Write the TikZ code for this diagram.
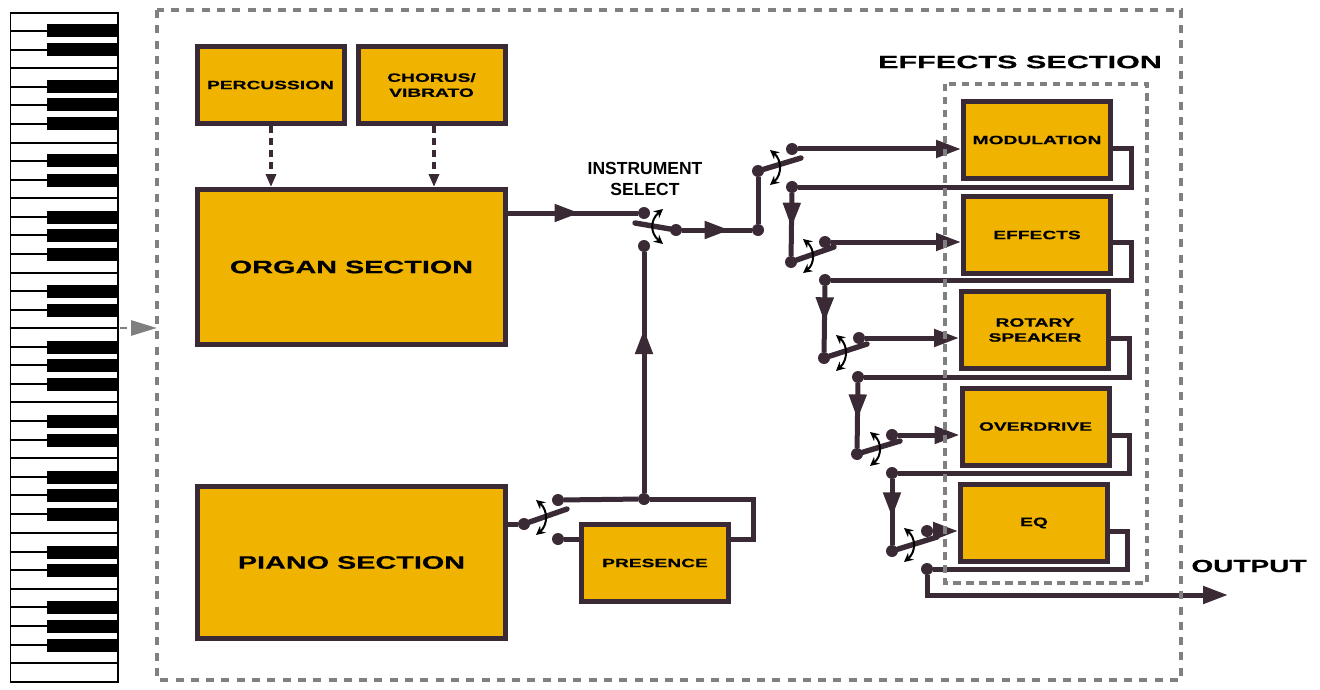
\documentclass[tikz,border=0pt]{standalone}
\usepackage{fontspec}
\usetikzlibrary{arrows.meta,decorations.markings}
\setmainfont{Liberation Sans}
\newfontfamily\techfont[FakeStretch=1.6,BoldFeatures={FakeBold=0.5}]{Liberation Sans}
\newfontfamily\techwide[FakeStretch=1.7,BoldFeatures={FakeBold=0.5}]{Liberation Sans}
\definecolor{wirecol}{HTML}{3A2A35}
\definecolor{boxcol}{HTML}{F0B400}
\definecolor{framecol}{HTML}{808080}
\begin{document}
\begin{tikzpicture}[x=1pt,y=-1pt]
\tikzset{
	block/.style={
		shape=rectangle,
		draw=wirecol, %dark border
		fill=boxcol,
		line width=5pt,
		inner sep=0pt,
		align=center
	},
	smallblock/.style={block, minimum width=147pt, minimum height=77pt, font=\techfont\bfseries\fontsize{12}{15}\selectfont},
	bigblock/.style={block, minimum width=308pt, font=\techfont\bfseries\fontsize{18}{20}\selectfont},
	dot/.style={shape=circle, fill=wirecol, minimum size=12pt, inner sep=0pt, outer sep=0pt},
	wire/.style={draw=wirecol, line width=5pt},
	blade/.style={draw=wirecol, line width=5.4pt, line cap=round},
	midtip/.style={postaction={decorate}, decoration={markings, mark=at position #1 with {\arrow{Triangle[length=25pt,width=17pt]}}}},
	endtip/.style={-{Triangle[length=25pt,width=17pt]}},
	swing/.style={draw=black, line width=2pt, {Stealth[length=9pt,width=9pt]}-{Stealth[length=9pt,width=9pt]}},
	control/.style={draw=wirecol, line width=3.4pt, dash pattern=on 7pt off 5pt, -{Triangle[length=13pt,width=10pt]}},
	frame/.style={draw=framecol, line width=3.4pt, dash pattern=on 8pt off 7.3pt},
	innerframe/.style={draw=framecol, line width=3.2pt, dash pattern=on 7.5pt off 5.5pt},
	heading/.style={inner sep=0pt}
}
\useasboundingbox (0,0) rectangle (1320,690);

%keyboard
\draw[line width=1.5pt, fill=white] (10.5,13) rectangle (118,682);
\foreach \y in {68,143,198,273,328,402,458,533,589,663}
	\draw[line width=1.5pt] (10.5,\y) -- (118,\y);
\foreach \y in {31,50,87,105,124,161,180,217,235,254,291,310,347,365,384,421,440,477,495,514,552,570,607,626,645} {
	\draw[line width=1.2pt] (10.5,\y) -- (47,\y);
	\fill[black] (47,\y-6.5) rectangle (118,\y+6.5);
}

\node[heading, font=\techwide\bfseries\fontsize{18}{20}\selectfont] (fxtitle) at (1020,62) {EFFECTS SECTION};
\node[heading, font=\techfont\bfseries\fontsize{17.5}{20}\selectfont] (outtitle) at (1249,566) {OUTPUT};

%keyboard input
\coordinate (kbd) at (120,328);
\coordinate (frameleft) at (157,328);
\draw[draw=framecol, line width=2.8pt, dash pattern=on 7pt off 4pt, -{Triangle[length=26pt,width=15pt]}] (kbd) -- (frameleft);

%blocks
\node[smallblock] (perc) at (270.5,85) {PERCUSSION};
\node[smallblock] (chorus) at (431.5,85) {CHORUS/\\VIBRATO};
\node[bigblock, minimum height=155pt] (organ) at (351.5,267) {ORGAN SECTION};
\node[bigblock, minimum height=152pt] (piano) at (351.5,562.5) {PIANO SECTION};
\node[smallblock] (presence) at (655,563) {PRESENCE};
\node[smallblock] (mod) at (1037,140) {MODULATION};
\node[smallblock] (fx) at (1037,235) {EFFECTS};
\node[smallblock] (rotary) at (1035,330) {ROTARY\\SPEAKER};
\node[smallblock] (drive) at (1035.5,426.5) {OVERDRIVE};
\node[smallblock] (eq) at (1034,523) {EQ};

\coordinate (percout) at (271,126);
\coordinate (chorusout) at (434,126);
\draw[control] (percout) -- (percout |- organ.north);
\draw[control] (chorusout) -- (chorusout |- organ.north);

%instrument select
\node[font=\bfseries\fontsize{17.5}{21}\selectfont, align=center, inner sep=0pt] (seltitle) at (645,179) {INSTRUMENT\\SELECT};
\node[dot] (selorgan) at (644,213) {};
\node[dot] (selpiano) at (644,246) {};
\node[dot] (selout) at (676,230) {};
\node[dot] (split) at (758,230) {};
\coordinate (selblade) at (635,223);
\coordinate (selarca) at (663,209);
\coordinate (selarcb) at (663,244);
\draw[wire, midtip=0.55] (selorgan -| organ.east) -- (selorgan);
\draw[blade] (selout) -- (selblade);
\draw[wire, midtip=0.68] (selout) -- (split);
\draw[swing] (selarca) .. controls (650,220) and (650,233) .. (selarcb);

%piano side
\node[dot] (pianoin) at (524,524) {};
\node[dot] (pianotop) at (558,500) {};
\node[dot] (pianolow) at (558,539) {};
\node[dot] (join) at (644,499) {};
\coordinate (pianoblade) at (567,509);
\coordinate (pianoarca) at (536,500);
\coordinate (pianoarcb) at (536,535);
\draw[wire] (pianoin -| piano.east) -- (pianoin);
\draw[blade] (pianoin) -- (pianoblade);
\draw[swing] (pianoarca) .. controls (548,510) and (548,525) .. (pianoarcb);
\draw[wire] (pianotop) -- (join);
\draw[wire] (join) -- (753,499) |- (pianolow -| presence.east);
\draw[wire] (pianolow) -- (pianolow -| presence.west);
\draw[wire, midtip=0.68] (join) -- (selpiano);

%first effect
\node[dot] (swa) at (758,171) {};
\node[dot] (inm) at (792,149) {};
\node[dot] (retm) at (792,187) {};
\coordinate (bladea) at (801,158);
\draw[wire] (split) -- (swa);
\draw[blade] (swa) -- (bladea);
\draw[wire, endtip] (inm) -- (inm -| mod.west);
\draw[wire] (inm -| mod.east) -- ++(18,0) |- (retm);
\draw[swing] (770,150) .. controls (782,160) and (782,175) .. (770,185);

%second effect
\node[dot] (swb) at (791,262) {};
\node[dot] (inf) at (825,242) {};
\node[dot] (retf) at (825,280) {};
\coordinate (bladeb) at (834,247);
\draw[wire, midtip=0.55] (retm) -- (swb);
\draw[blade] (swb) -- (bladeb);
\draw[wire, endtip] (inf) -- (inf -| fx.west);
\draw[wire] (inf -| fx.east) -- ++(18,0) |- (retf);
\draw[swing] (803,239) .. controls (815,249) and (815,264) .. (803,273);

%third effect
\node[dot] (swc) at (824,358) {};
\node[dot] (inr) at (859,338) {};
\node[dot] (retr) at (858,377) {};
\coordinate (bladec) at (867,344);
\draw[wire, midtip=0.55] (retf) -- (swc);
\draw[blade] (swc) -- (bladec);
\draw[wire, endtip] (inr) -- (inr -| rotary.west);
\draw[wire] (inr -| rotary.east) -- ++(18,0) |- (retr);
\draw[swing] (836,335) .. controls (848,345) and (848,360) .. (836,371);

%fourth effect
\node[dot] (swd) at (857,454) {};
\node[dot] (ino) at (892,435) {};
\node[dot] (reto) at (892,473) {};
\coordinate (bladed) at (900,441);
\draw[wire, midtip=0.56] (retr) -- (swd);
\draw[blade] (swd) -- (bladed);
\draw[wire, endtip] (ino) -- (ino -| drive.west);
\draw[wire] (ino -| drive.east) -- ++(18,0) |- (reto);
\draw[swing] (870,432) .. controls (882,442) and (882,456) .. (870,466);

%last effect
\node[dot] (swe) at (892,551) {};
\node[dot] (ine) at (927,531) {};
\node[dot] (rete) at (927,569) {};
\coordinate (bladee) at (937,537);
\coordinate (outend) at (1228,595);
\draw[wire, midtip=0.58] (reto) -- (swe);
\draw[blade] (swe) -- (bladee);
\draw[wire, endtip] (ine) -- (ine -| eq.west);
\draw[wire] (ine -| eq.east) -- ++(17,0) |- (rete);
\draw[swing] (904,528) .. controls (916,538) and (916,552) .. (904,562);
\draw[wire, endtip] (rete) |- (outend);

%dashed frames
\draw[frame] (157,10) rectangle (1181,680);
\draw[innerframe] (945,84) rectangle (1147,583);
\end{tikzpicture}
\end{document}
